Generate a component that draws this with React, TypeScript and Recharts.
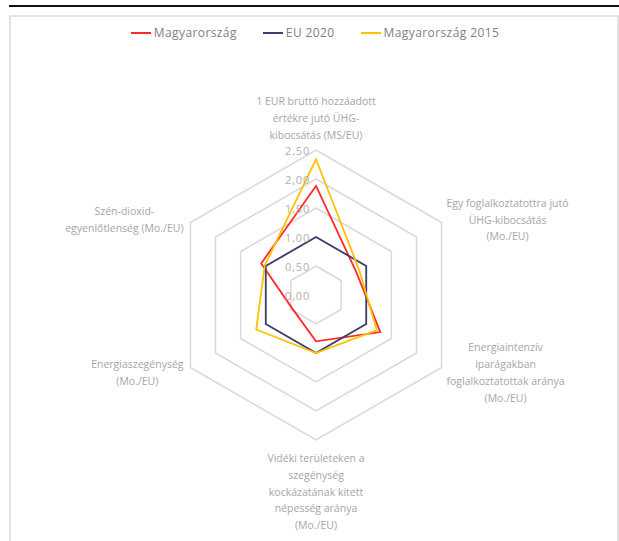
import React from 'react';
import { RadarChart, Radar, PolarGrid, PolarAngleAxis, PolarRadiusAxis } from 'recharts';

// Axis labels, one entry per spoke (clockwise from the top), pre-wrapped like the original
const CATEGORY_LINES: string[][] = [
  ['1 EUR bruttó hozzáadott', 'értékre jutó ÜHG-', 'kibocsátás (MS/EU)'],
  ['Egy foglalkoztatottra jutó', 'ÜHG-kibocsátás', '(Mo./EU)'],
  ['Energiaintenzív', 'iparágakban', 'foglalkoztatottak aránya', '(Mo./EU)'],
  ['Vidéki területeken a', 'szegénység', 'kockázatának kitett', 'népesség aránya', '(Mo./EU)'],
  ['Energiaszegénység', '(Mo./EU)'],
  ['Szén-dioxid-', 'egyenlőtlenség (Mo./EU)'],
];

const HU = [1.88, 0.8, 1.28, 0.8, 0.47, 1.09];
const EU_2020 = [1, 1, 1, 1, 1, 1];
const HU_2015 = [2.34, 0.86, 1.21, 1.0, 1.19, 1.02];

const RADIUS_TICKS = [0, 0.5, 1, 1.5, 2, 2.5];

const SERIES = [
  { key: 'hu', name: 'Magyarország', color: '#ff2a2a' },
  { key: 'eu', name: 'EU 2020', color: '#3b3f6c' },
  { key: 'hu15', name: 'Magyarország 2015', color: '#ffc000' },
];

const data = CATEGORY_LINES.map((lines, i) => ({
  cat: lines.join(' '),
  hu: HU[i],
  eu: EU_2020[i],
  hu15: HU_2015[i],
}));

const LINES_BY_CAT: Record<string, string[]> = {};
CATEGORY_LINES.forEach((l) => { LINES_BY_CAT[l.join(' ')] = l; });

const FONT = "'Open Sans', sans-serif";
const LABEL_SIZE = 10.5;
const LINE_H = 16.8;
const LABEL_COLOR = '#a6a6a6';

let measureCtx: CanvasRenderingContext2D | null = null;
function textWidth(s: string) {
  if (!measureCtx) measureCtx = document.createElement('canvas').getContext('2d');
  if (!measureCtx) return s.length * 5.5;
  measureCtx.font = `${LABEL_SIZE}px ${FONT}`;
  return measureCtx.measureText(s).width;
}

function AngleTick(props: any) {
  const { x, y, payload } = props;
  const lines = LINES_BY_CAT[payload.value] || [String(payload.value)];
  const rad = (payload.coordinate * Math.PI) / 180;
  const cos = Math.cos(rad);
  const sin = Math.sin(rad);
  const maxW = Math.max(...lines.map(textWidth));
  let centerX = x;
  let firstY = y;
  if (Math.abs(cos) < 0.1) {
    centerX = x;
    firstY = sin > 0 ? y - 7 - (lines.length - 1) * LINE_H : y + 10;
  } else {
    centerX = cos > 0 ? x - 2 + maxW / 2 : x - maxW / 2;
    firstY = y + 1 - ((lines.length - 1) * LINE_H) / 2;
  }
  return (
    <text
      textAnchor="middle"
      fill={LABEL_COLOR}
      fontSize={LABEL_SIZE}
      fontFamily={FONT}
    >
      {lines.map((l, i) => (
        <tspan key={i} x={centerX} y={firstY + i * LINE_H} dominantBaseline="central">
          {l}
        </tspan>
      ))}
    </text>
  );
}

function RadiusTick(props: any) {
  const { x, y, payload } = props;
  return (
    <text
      x={x - 6}
      y={y}
      textAnchor="end"
      dominantBaseline="central"
      fill="#b0b0b0"
      fontSize={11}
      fontFamily={FONT}
      letterSpacing={0.8}
    >
      {Number(payload.value).toFixed(2).replace('.', ',')}
    </text>
  );
}

function LegendRow() {
  return (
    <div
      style={{
        position: 'absolute',
        top: 24,
        left: 0,
        width: 630,
        display: 'flex',
        justifyContent: 'center',
        gap: 26,
        fontFamily: FONT,
        fontSize: 12,
        letterSpacing: 0.4,
        color: '#808080',
      }}
    >
      {SERIES.map((s) => (
        <div key={s.key} style={{ display: 'flex', alignItems: 'center' }}>
          <span style={{ display: 'inline-block', width: 20, height: 2, background: s.color, marginRight: 3 }} />
          <span>{s.name}</span>
        </div>
      ))}
    </div>
  );
}

export default function App() {
  return (
    <div
      style={{
        position: 'absolute',
        left: 0,
        top: 0,
        width: 619,
        height: 541,
        overflow: 'hidden',
        background: '#ffffff',
      }}
    >
      {/* dark rule above the chart frame */}
      <div style={{ position: 'absolute', left: 9, top: 5, width: 610, height: 2, background: '#111' }} />
      {/* chart frame */}
      <div
        style={{
          position: 'absolute',
          left: 9,
          top: 15,
          width: 606,
          height: 560,
          border: '2px solid #e3e3e3',
        }}
      />
      <LegendRow />
      <div style={{ position: 'absolute', left: 0, top: 0 }}>
        <RadarChart
          width={619}
          height={541}
          data={data}
          cx={316}
          cy={295}
          outerRadius={145}
          margin={{ top: 0, right: 0, bottom: 0, left: 0 }}
        >
          <PolarGrid gridType="polygon" radialLines={false} stroke="#d9d9d9" strokeWidth={1.5} />
          <PolarAngleAxis dataKey="cat" tick={AngleTick} tickLine={false} axisLine={false} />
          <PolarRadiusAxis
            type="number"
            angle={90}
            domain={[0, 2.5]}
            allowDecimals
            allowDataOverflow
            ticks={RADIUS_TICKS as any}
            tickCount={RADIUS_TICKS.length}
            tick={RadiusTick}
            axisLine={false}
            tickLine={false}
          />
          {SERIES.map((s) => (
            <Radar
              key={s.key}
              name={s.name}
              dataKey={s.key}
              stroke={s.color}
              strokeWidth={1.8}
              fill="none"
              fillOpacity={0}
              dot={false}
              isAnimationActive={false}
            />
          ))}
        </RadarChart>
      </div>
    </div>
  );
}
